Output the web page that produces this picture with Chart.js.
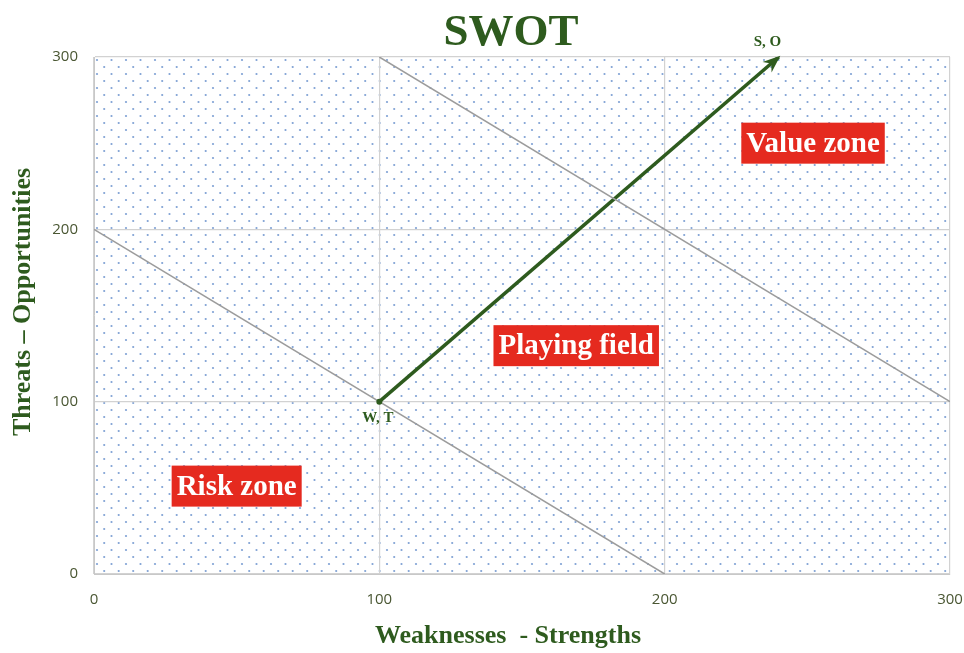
<!DOCTYPE html>
<html>
<head>
<meta charset="utf-8">
<script src="https://cdn.jsdelivr.net/npm/chart.js@4.4.1/dist/chart.umd.min.js"></script>
<style>
    html, body { margin: 0; padding: 0; background: #fff; }
    #wrap { width: 964px; height: 653px; }
</style>
</head>
<body>
<div id="wrap"><canvas id="chart"></canvas></div>
<script>
// axis range / ticks
const xTicks = [0, 100, 200, 300]
const yTicks = [0, 100, 200, 300]

// zone boundaries (gray diagonals)
const lowerBoundary = [{ x: 0, y: 200 }, { x: 200, y: 0 }]
const upperBoundary = [{ x: 100, y: 300 }, { x: 300, y: 100 }]

// development arrow W,T -> S,O
const arrowPath = [{ x: 100, y: 100 }, { x: 240, y: 300 }]

// point captions
const pointLabels = [
    { text: "W, T", x: 99.5, y: 90.5 },
    { text: "S, O", x: 236, y: 308.5 },
]

// zone captions (centre in data units)
const zoneLabels = [
    { text: "Value zone", x: 252, y: 250 },
    { text: "Playing field", x: 169, y: 132.5 },
    { text: "Risk zone", x: 50, y: 51 },
]

const GREEN = "#2e5b1e"
const TICK = "#4a5733"
const SERIF = "'Liberation Serif', 'DejaVu Serif', serif"

const makeDots = () => {
    const c = document.createElement("canvas")
    c.width = 29
    c.height = 14
    const g = c.getContext("2d")
    g.fillStyle = "rgba(105, 145, 205, 0.85)"
    ;[[3, 3], [17.5, 3], [10.2, 10], [24.7, 10]].forEach(([x, y]) => {
        g.beginPath()
        g.arc(x, y, 1.1, 0, Math.PI * 2)
        g.fill()
    })
    return c
}

const dotsPlugin = {
    id: "dots",
    beforeDraw(chart) {
        const { ctx, chartArea: a } = chart
        ctx.save()
        const pattern = ctx.createPattern(makeDots(), "repeat")
        ctx.translate(a.left, a.top)
        ctx.fillStyle = pattern
        ctx.fillRect(0, 0, a.right - a.left, a.bottom - a.top)
        ctx.restore()
    },
}

const textPlugin = {
    id: "texts",
    afterDraw(chart) {
        const { ctx, scales } = chart
        const px = (v) => scales.x.getPixelForValue(v)
        const py = (v) => scales.y.getPixelForValue(v)
        ctx.save()

        // arrow head
        const x0 = px(arrowPath[0].x), y0 = py(arrowPath[0].y)
        const x1 = px(arrowPath[1].x), y1 = py(arrowPath[1].y)
        const ang = Math.atan2(y1 - y0, x1 - x0)
        ctx.fillStyle = GREEN
        ctx.beginPath()
        ctx.moveTo(x1 + 2 * Math.cos(ang), y1 + 2 * Math.sin(ang))
        ctx.lineTo(x1 - 17 * Math.cos(ang - 0.42), y1 - 17 * Math.sin(ang - 0.42))
        ctx.lineTo(x1 - 10 * Math.cos(ang), y1 - 10 * Math.sin(ang))
        ctx.lineTo(x1 - 17 * Math.cos(ang + 0.42), y1 - 17 * Math.sin(ang + 0.42))
        ctx.closePath()
        ctx.fill()
        ctx.beginPath()
        ctx.arc(x0, y0, 3, 0, Math.PI * 2)
        ctx.fill()

        // point captions
        ctx.font = `bold 15px ${SERIF}`
        ctx.textAlign = "center"
        ctx.textBaseline = "middle"
        pointLabels.forEach((l) => ctx.fillText(l.text, px(l.x), py(l.y)))

        // zone boxes
        ctx.font = `bold 29px ${SERIF}`
        zoneLabels.forEach((l) => {
            const w = ctx.measureText(l.text).width + 10
            const h = 41
            const cx = px(l.x), cy = py(l.y)
            ctx.fillStyle = "#e52a1f"
            ctx.fillRect(cx - w / 2, cy - h / 2, w, h)
            ctx.fillStyle = "#ffffff"
            ctx.fillText(l.text, cx, cy + 1)
        })

        // title and axis titles
        ctx.fillStyle = GREEN
        ctx.font = `bold 45px ${SERIF}`
        ctx.fillText("SWOT", 511, 33)
        ctx.font = `bold 26px ${SERIF}`
        ctx.fillText("Weaknesses  - Strengths", 508, 636)
        ctx.translate(23, 302)
        ctx.rotate(-Math.PI / 2)
        ctx.fillText("Threats \u2013 Opportunities", 0, 0)
        ctx.restore()
    },
}

new Chart(document.getElementById("chart"), {
    type: "scatter",
    data: {
        datasets: [
            { data: lowerBoundary, showLine: true, borderColor: "#9c9c9c", borderWidth: 1.5, pointRadius: 0 },
            { data: upperBoundary, showLine: true, borderColor: "#9c9c9c", borderWidth: 1.5, pointRadius: 0 },
            { data: arrowPath, showLine: true, borderColor: GREEN, borderWidth: 3.5, pointRadius: 0 },
        ],
    },
    options: {
        responsive: true,
        maintainAspectRatio: false,
        animation: false,
        layout: { padding: { top: 57, right: 14, left: 0, bottom: 0 } },
        plugins: { legend: { display: false }, tooltip: { enabled: false } },
        scales: {
            x: {
                min: 0,
                max: 300,
                afterFit: (scale) => {
                    scale.height = 79
                    scale.paddingLeft = 0
                    scale.paddingRight = 0
                },
                afterBuildTicks: (scale) => { scale.ticks = xTicks.map((v) => ({ value: v })) },
                grid: { color: "#d2d2d2", lineWidth: 1.2, drawTicks: false },
                border: { color: "#c8c8c8" },
                ticks: { color: TICK, padding: 17, font: { family: "'Open Sans', sans-serif", size: 15 } },
            },
            y: {
                min: 0,
                max: 300,
                afterFit: (scale) => {
                    scale.width = 94
                    scale.paddingTop = 0
                    scale.paddingBottom = 0
                },
                afterBuildTicks: (scale) => { scale.ticks = yTicks.map((v) => ({ value: v })) },
                grid: { color: "#d2d2d2", lineWidth: 1.2, drawTicks: false },
                border: { color: "#c8c8c8" },
                ticks: { color: TICK, padding: 16, font: { family: "'Open Sans', sans-serif", size: 15 } },
            },
        },
    },
    plugins: [dotsPlugin, textPlugin],
})
</script>
</body>
</html>
